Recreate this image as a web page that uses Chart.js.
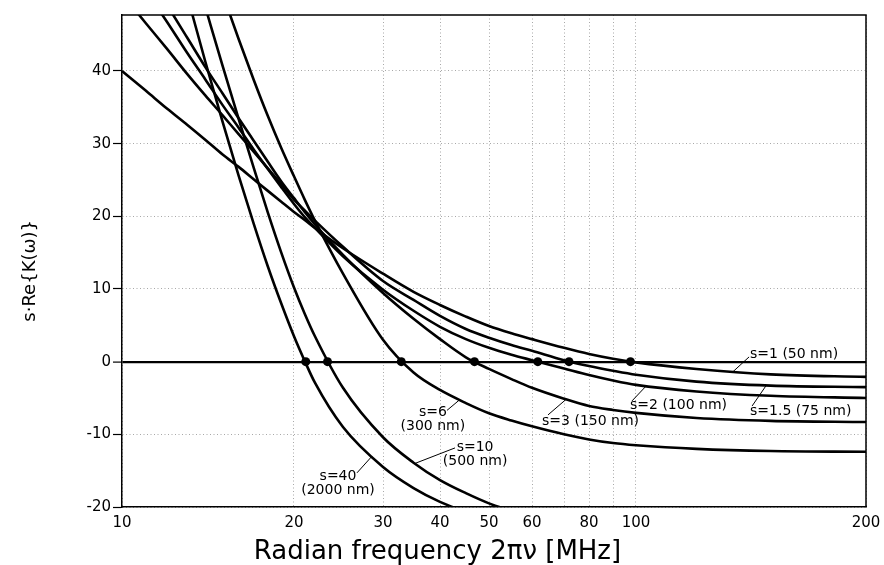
<!DOCTYPE html>
<html>
<head>
<meta charset="utf-8">
<script src="https://cdn.jsdelivr.net/npm/chart.js@4.4.1/dist/chart.umd.min.js"></script>
<style>html,body{margin:0;padding:0;background:#fff}</style>
</head>
<body>
<canvas id="chart" width="884" height="565"></canvas>
<script>
// ---------------- data ----------------
const FREQ = [10, 11, 12, 13, 14, 15, 16, 17, 18, 19, 20, 21, 22, 25, 30, 35, 40, 45, 50, 55, 60, 70, 80, 90, 100, 120, 150, 200];

const S_1   = [40.0, 37.3, 34.8, 32.6, 30.5, 28.5, 26.8, 25.1, 23.5, 22.0, 20.6, 19.5, 18.4, 15.6, 12.1, 9.6, 7.8, 6.2, 4.9, 3.9, 3.1, 1.9, 1.05, 0.4, -0.1, -1.0, -1.75, -2.1];
const S_1_5 = [50.6, 46.6, 43.0, 39.6, 36.6, 33.9, 31.3, 28.9, 26.6, 24.4, 22.3, 20.8, 19.4, 15.8, 11.1, 8.5, 6.3, 4.5, 3.3, 2.3, 1.5, 0.2, -0.6, -1.25, -1.8, -2.75, -3.3, -3.5];
const S_2   = [null, 51.1, 46.7, 42.5, 38.8, 35.3, 32.2, 29.2, 26.5, 24.0, 21.7, 19.9, 18.4, 14.5, 9.9, 7.0, 4.8, 3.1, 1.9, 0.95, 0.2, -0.95, -1.85, -2.6, -3.2, -4.1, -4.7, -5.0];
const S_3   = [null, 53.5, 49.0, 44.6, 40.5, 36.9, 33.5, 30.4, 27.5, 24.8, 22.5, 20.6, 18.9, 14.7, 9.45, 5.9, 3.1, 0.6, -1.0, -2.4, -3.6, -5.1, -6.1, -6.65, -7.05, -7.75, -8.15, -8.3];
const S_6   = [null, null, null, null, 57.5, 50.6, 44.4, 38.8, 33.8, 29.4, 25.5, 22.3, 19.4, 12.1, 3.0, -1.5, -3.9, -5.7, -7.1, -8.1, -8.9, -10.0, -10.7, -11.2, -11.5, -12.0, -12.3, -12.4];
const S_10  = [null, null, null, 57.3, 48.7, 40.7, 33.4, 26.7, 20.5, 15.0, 10.2, 6.6, 3.5, -3.6, -10.4, -13.9, -16.3, -18.1, -19.5, -20.5, null, null, null, null, null, null, null, null];
const S_40  = [null, null, null, 50.4, 41.2, 33.0, 25.6, 19.0, 13.1, 8.0, 3.5, 0.1, -2.9, -9.0, -14.5, -17.4, -19.3, -20.7, null, null, null, null, null, null, null, null, null, null];

const SERIES_NAMES = ['s=1', 's=1.5', 's=2', 's=3', 's=6', 's=10', 's=40'];

// zero crossings (black dots)
const CROSS_FREQ  = [21.1, 23.3, 32.9, 46.8, 61.7, 71.9, 97.5];
const CROSS_VALUE = [0, 0, 0, 0, 0, 0, 0];

// axis ticks
const X_TICKS       = [10, 20, 30, 40, 50, 60, 70, 80, 90, 100, 200];
const X_TICK_LABELS = ['10', '20', '30', '40', '50', '60', '', '80', '', '100', '200'];
const Y_TICKS       = [-20, -10, 0, 10, 20, 30, 40];

const X_TITLE = 'Radian frequency 2\u03C0\u03BD [MHz]';
const Y_TITLE = 's\u00B7Re{K(\u03C9)}';

// ---------------- scale calibration (the original axis is not uniformly logarithmic) ----------------
const X_CAL_VALUES = [10, 20, 30, 40, 50, 60, 70, 80, 90, 100, 200];
const X_CAL_FRACS  = [0, 0.23118, 0.35081, 0.42742, 0.49328, 0.55108, 0.59409, 0.62769, 0.65995, 0.69086, 1];

// ---------------- curve labels (in data coordinates) ----------------
const CURVE_LABELS = [
  {text: ['s=1 (50 nm)'],        at: [141.0, 1.06],  align: 'left',   from: [133.9, -1.4],  to: [140.6, 0.65]},
  {text: ['s=2 (100 nm)'],       at: [97.3, -5.96],  align: 'left',   from: [103.1, -3.35], to: [98.2, -5.4]},
  {text: ['s=1.5 (75 nm)'],      at: [141.0, -6.78], align: 'left',   from: [148.0, -3.3],  to: [141.9, -6.1]},
  {text: ['s=3 (150 nm)'],       at: [62.97, -8.16], align: 'left',   from: [70.75, -5.2],  to: [64.8, -7.33]},
  {text: ['s=6', '(300 nm)'],    at: [38.59, -7.9],  align: 'center', from: [43.82, -5.2],  to: [41.3, -6.7]},
  {text: ['s=10', '(500 nm)'],   at: [46.93, -12.8], align: 'center', from: [35.27, -14.0], to: [42.83, -11.87]},
  {text: ['s=40', '(2000 nm)'],  at: [24.44, -16.8], align: 'center', from: [28.54, -13.0], to: [26.65, -15.3]}
];

const FONT = '"DejaVu Sans", "Liberation Sans", sans-serif';

// ---------------- custom x scale ----------------
const LOG_CAL = X_CAL_VALUES.map(v => Math.log10(v));
function warp(v) {
  const lv = Math.log10(v);
  const n = LOG_CAL.length;
  let i = 1;
  while (i < n - 1 && lv > LOG_CAL[i]) i++;
  const t = (lv - LOG_CAL[i - 1]) / (LOG_CAL[i] - LOG_CAL[i - 1]);
  return X_CAL_FRACS[i - 1] + t * (X_CAL_FRACS[i] - X_CAL_FRACS[i - 1]);
}
function unwarp(d) {
  const n = X_CAL_FRACS.length;
  let i = 1;
  while (i < n - 1 && d > X_CAL_FRACS[i]) i++;
  const t = (d - X_CAL_FRACS[i - 1]) / (X_CAL_FRACS[i] - X_CAL_FRACS[i - 1]);
  return Math.pow(10, LOG_CAL[i - 1] + t * (LOG_CAL[i] - LOG_CAL[i - 1]));
}

const LogScale = Chart.registry.getScale('logarithmic');
class AnchoredLogScale extends LogScale {
  buildTicks() {
    this.start = this.min;
    this.end = this.max;
    return X_TICKS.map(v => ({value: v}));
  }
  getPixelForValue(value) {
    if (value === undefined || value === 0) value = this.min;
    if (value === null || isNaN(value) || value <= 0) return NaN;
    return this.getPixelForDecimal(warp(value));
  }
  getValueForPixel(pixel) {
    return unwarp(this.getDecimalForPixel(pixel));
  }
}
AnchoredLogScale.id = 'anchoredLog';
AnchoredLogScale.defaults = {};
Chart.register(AnchoredLogScale);

// ---------------- plugins ----------------
const framePlugin = {
  id: 'frame',
  beforeDatasetsDraw(chart) {
    const {ctx, chartArea: a} = chart;
    ctx.save();
    ctx.strokeStyle = '#000';
    ctx.lineWidth = 1.5;
    ctx.beginPath();
    ctx.moveTo(a.left, a.top);
    ctx.lineTo(a.right, a.top);
    ctx.lineTo(a.right, a.bottom);
    ctx.stroke();
    ctx.restore();
  }
};

const curveLabelPlugin = {
  id: 'curveLabels',
  afterDatasetsDraw(chart) {
    const {ctx} = chart;
    const xs = chart.scales.x, ys = chart.scales.y;
    ctx.save();
    ctx.strokeStyle = '#000';
    ctx.fillStyle = '#000';
    ctx.lineWidth = 1;
    ctx.font = '14px ' + FONT;
    ctx.textBaseline = 'middle';
    CURVE_LABELS.forEach(l => {
      ctx.beginPath();
      ctx.moveTo(xs.getPixelForValue(l.from[0]), ys.getPixelForValue(l.from[1]));
      ctx.lineTo(xs.getPixelForValue(l.to[0]), ys.getPixelForValue(l.to[1]));
      ctx.stroke();
      ctx.textAlign = l.align;
      const px = xs.getPixelForValue(l.at[0]);
      const py = ys.getPixelForValue(l.at[1]);
      const n = l.text.length;
      l.text.forEach((t, k) => ctx.fillText(t, px, py + (k - (n - 1) / 2) * 14));
    });
    ctx.restore();
  }
};

const axisTitlePlugin = {
  id: 'axisTitles',
  afterDraw(chart) {
    const {ctx, chartArea: a} = chart;
    ctx.save();
    ctx.fillStyle = '#000';
    ctx.textAlign = 'center';
    ctx.textBaseline = 'middle';
    ctx.font = '26px ' + FONT;
    ctx.fillText(X_TITLE, a.left + 0.424 * (a.right - a.left), a.bottom + 45);
    ctx.translate(30, a.top + 0.52 * (a.bottom - a.top));
    ctx.rotate(-Math.PI / 2);
    ctx.font = '18px ' + FONT;
    ctx.fillText(Y_TITLE, 0, 0);
    ctx.restore();
  }
};

// ---------------- datasets ----------------
const CURVES = [S_1, S_1_5, S_2, S_3, S_6, S_10, S_40];
const datasets = CURVES.map((vals, k) => ({
  label: SERIES_NAMES[k],
  data: FREQ.map((f, i) => ({x: f, y: vals[i]})),
  borderColor: '#000',
  borderWidth: 2.6,
  pointRadius: 0,
  fill: false,
  cubicInterpolationMode: 'monotone',
  capBezierPoints: false,
  order: 2
}));
datasets.push({
  label: 'zero crossings',
  data: CROSS_FREQ.map((f, i) => ({x: f, y: CROSS_VALUE[i]})),
  showLine: false,
  pointRadius: 4.5,
  pointBackgroundColor: '#000',
  pointBorderColor: '#000',
  pointBorderWidth: 0,
  order: 0
});

const isZero = c => !!(c && c.tick && c.tick.value === 0);

new Chart(document.getElementById('chart'), {
  type: 'line',
  data: {datasets},
  options: {
    responsive: false,
    animation: false,
    devicePixelRatio: 1,
    layout: {padding: {top: 15, right: 18, left: 0, bottom: 0}},
    plugins: {legend: {display: false}, tooltip: {enabled: false}},
    scales: {
      x: {
        type: 'anchoredLog',
        min: 10, max: 200,
        position: 'bottom',
        afterFit(s) { s.height = 58; s.paddingLeft = 0; s.paddingRight = 0; },
        grid: {color: '#a8a8a8', lineWidth: 1, drawTicks: false},
        border: {display: true, color: '#000', width: 1.5, dash: [1, 2.5]},
        ticks: {
          autoSkip: false, maxRotation: 0, minRotation: 0, padding: 7,
          color: '#000', font: {family: FONT, size: 15},
          callback: (v) => { const i = X_TICKS.indexOf(v); return i < 0 ? '' : X_TICK_LABELS[i]; }
        }
      },
      y: {
        type: 'linear',
        min: -20, max: 47.7,
        position: 'left',
        afterFit(s) { s.width = 122; },
        afterBuildTicks(s) { s.ticks = Y_TICKS.map(v => ({value: v})); },
        grid: {
          color: c => isZero(c) ? '#000' : '#a8a8a8',
          lineWidth: c => isZero(c) ? 2.2 : 1,
          drawTicks: true, tickLength: 9, tickColor: '#000', tickWidth: 1.2, tickBorderDash: []
        },
        border: {display: true, color: '#000', width: 1.5, dash: c => isZero(c) ? [] : [1, 2.5]},
        ticks: {padding: 2, color: '#000', font: {family: FONT, size: 15}}
      }
    }
  },
  plugins: [framePlugin, curveLabelPlugin, axisTitlePlugin]
});
</script>
</body>
</html>
